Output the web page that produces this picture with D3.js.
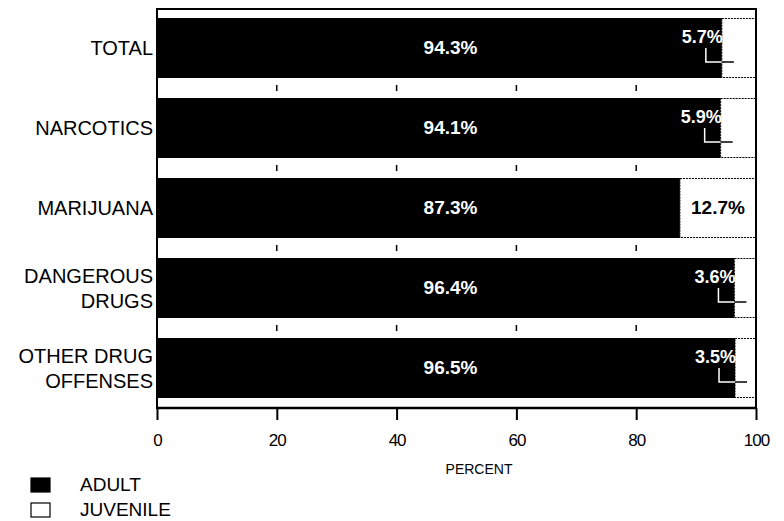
<!DOCTYPE html>
<html>
<head>
<meta charset="utf-8">
<script src="https://cdn.jsdelivr.net/npm/d3@7"></script>
<style>
  html, body { margin: 0; padding: 0; background: #fff; }
  svg { display: block; font-family: "Liberation Sans", Arial, Helvetica, sans-serif; }
</style>
</head>
<body>
<svg id="chart" width="784" height="521"></svg>
<script>
// ---- data ----
const categories = [["TOTAL"], ["NARCOTICS"], ["MARIJUANA"], ["DANGEROUS", "DRUGS"], ["OTHER DRUG", "OFFENSES"]];
const adultValues = [94.3, 94.1, 87.3, 96.4, 96.5];
const juvenileValues = [5.7, 5.9, 12.7, 3.6, 3.5];
const adultLabels = ["94.3%", "94.1%", "87.3%", "96.4%", "96.5%"];
const juvenileLabels = ["5.7%", "5.9%", "12.7%", "3.6%", "3.5%"];
const xTicks = [0, 20, 40, 60, 80, 100];
const legendItems = ["ADULT", "JUVENILE"];

const svg = d3.select("#chart");
const pLeft = 157, pRight = 756, pTop = 8, pBottom = 408;

const x = d3.scaleLinear().domain([0, 100]).range([pLeft, pRight]);
const y = d3.scaleBand().domain(d3.range(categories.length)).range([pTop, pBottom])
  .paddingInner(0.25).paddingOuter(0.125);

const rows = categories.map((c, i) => ({
  i, name: c, adult: adultValues[i], juv: juvenileValues[i],
  aLab: adultLabels[i], jLab: juvenileLabels[i]
}));

// short gridline marks in the gaps between bars
const midTicks = xTicks.filter(t => t > 0 && t < 100);
d3.range(1, categories.length).forEach(k => {
  const gy = y(k) - y.step() * y.paddingInner() / 2;
  svg.append("g").selectAll("line").data(midTicks).join("line")
    .attr("x1", d => x(d)).attr("x2", d => x(d))
    .attr("y1", gy - 3).attr("y2", gy + 3)
    .attr("stroke", "#000").attr("stroke-width", 1.5);
});

// adult bars
svg.append("g").selectAll("rect").data(rows).join("rect")
  .attr("x", x(0)).attr("y", d => y(d.i))
  .attr("width", d => x(d.adult) - x(0)).attr("height", y.bandwidth())
  .attr("fill", "#000");

// juvenile bars
svg.append("g").selectAll("rect").data(rows).join("rect")
  .attr("x", d => x(d.adult)).attr("y", d => y(d.i) + 0.5)
  .attr("width", d => x(100) - x(d.adult) - 0.5).attr("height", y.bandwidth() - 1)
  .attr("fill", "#fff").attr("stroke", "#000").attr("stroke-width", 1)
  .attr("stroke-dasharray", "2,1");

// frame: top line, left line, right line
svg.append("line").attr("x1", pLeft).attr("x2", pRight + 1).attr("y1", pTop + 1).attr("y2", pTop + 1)
  .attr("stroke", "#000").attr("stroke-width", 2);
svg.append("line").attr("x1", pLeft).attr("x2", pLeft).attr("y1", pTop).attr("y2", pBottom)
  .attr("stroke", "#000").attr("stroke-width", 2);
svg.append("line").attr("x1", pRight).attr("x2", pRight).attr("y1", pTop).attr("y2", pBottom)
  .attr("stroke", "#000").attr("stroke-width", 2);

const xAxis = d3.axisBottom(x).tickValues(xTicks).tickSize(12).tickPadding(14).tickFormat(d3.format("d"));
const ax = svg.append("g").attr("transform", `translate(0,${pBottom})`).call(xAxis);
ax.select(".domain").attr("stroke-width", 2.5).attr("d", `M${pLeft - 1},0H${pRight + 1}`);
ax.selectAll(".tick line").attr("stroke-width", 2);
ax.selectAll(".tick text").attr("font-size", 17).attr("fill", "#000")
  .attr("font-family", "'Liberation Sans', Arial, sans-serif").attr("letter-spacing", -1);

// axis title
svg.append("text").attr("x", 479).attr("y", 474).attr("text-anchor", "middle")
  .attr("font-size", 14).attr("fill", "#000").text("PERCENT");

// category labels
const cat = svg.append("g").selectAll("text").data(rows).join("text")
  .attr("text-anchor", "end").attr("font-size", 20).attr("fill", "#000");
cat.each(function(d) {
  const t = d3.select(this);
  const n = d.name.length;
  const cy = y(d.i) + y.bandwidth() / 2;
  d.name.forEach((line, k) => {
    t.append("tspan").attr("x", pLeft - 4)
      .attr("y", cy + 7 + (k - (n - 1) / 2) * 25)
      .text(line);
  });
});

// adult value labels
svg.append("g").selectAll("text").data(rows).join("text")
  .attr("x", x(49)).attr("y", d => y(d.i) + y.bandwidth() / 2 + 6)
  .attr("text-anchor", "middle").attr("font-size", 19).attr("font-weight", "bold")
  .attr("fill", "#fff").text(d => d.aLab);

// juvenile labels
rows.forEach(d => {
  const bx = x(d.adult);
  const by = y(d.i);
  if (d.juv > 10) {
    svg.append("text").attr("x", (bx + x(100)) / 2).attr("y", by + y.bandwidth() / 2 + 6)
      .attr("text-anchor", "middle").attr("font-size", 19).attr("font-weight", "bold")
      .attr("fill", "#000").text(d.jLab);
  } else {
    svg.append("text").attr("x", bx + 1).attr("y", by + 25)
      .attr("text-anchor", "end").attr("font-size", 18).attr("font-weight", "bold")
      .attr("fill", "#fff").text(d.jLab);
    const lx = bx - 16, ly = by + 44;
    svg.append("path").attr("d", `M${lx},${by + 30}V${ly}H${bx}`)
      .attr("fill", "none").attr("stroke", "#fff").attr("stroke-width", 1.5);
    svg.append("line").attr("x1", bx).attr("x2", bx + 12).attr("y1", ly).attr("y2", ly)
      .attr("stroke", "#000").attr("stroke-width", 1.5);
  }
});

// legend
const lg = svg.append("g");
lg.selectAll("rect").data(legendItems).join("rect")
  .attr("x", 31).attr("y", (d, i) => 478 + i * 25)
  .attr("width", 19).attr("height", 14)
  .attr("fill", (d, i) => i === 0 ? "#000" : "#fff")
  .attr("stroke", "#000").attr("stroke-width", 1.2);
lg.selectAll("text").data(legendItems).join("text")
  .attr("x", 80).attr("y", (d, i) => 491 + i * 25)
  .attr("font-size", 19).attr("fill", "#000").text(d => d);
</script>
</body>
</html>
